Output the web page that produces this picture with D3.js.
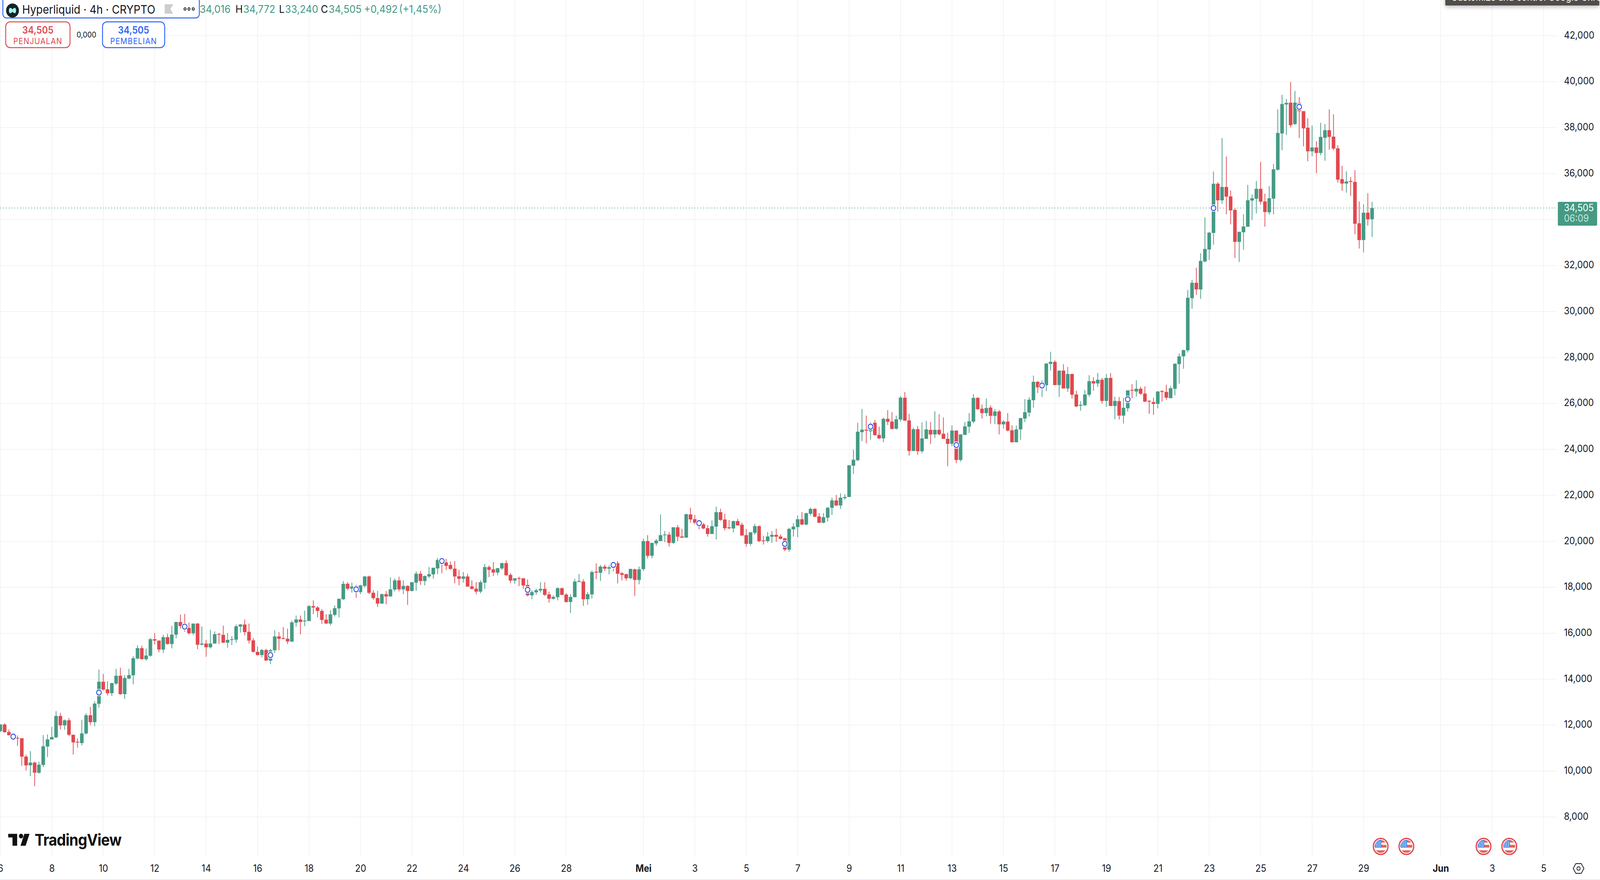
<!DOCTYPE html>
<html>
<head>
<meta charset="utf-8">
<script src="https://cdn.jsdelivr.net/npm/d3@7"></script>
<style>
html, body { margin: 0; padding: 0; width: 100%; height: 100%; background: #fff; overflow: hidden; }
svg { display: block; width: 100vw; height: 100vh; font-family: Inter, "Noto Sans", sans-serif; }
.tick text { font-family: Inter, "Noto Sans", sans-serif; }
</style>
</head>
<body>
<script>
// candle 4 jam, [open, high, low, close], satuan 1/1000 USD
var aprCandles = [
[11740,12040,11700,12030],[12030,12080,11680,11690],[11700,11810,11560,11560],[11550,11580,11410,11450],[11450,11550,11100,11430],
[11430,11430,10230,10630],[10630,10710,10030,10250],[10250,10870,9780,10370],[10370,10410,9340,9930],[9930,10410,9890,10280],
[10270,11570,10170,11080],[11070,11600,10610,11380],[11380,11930,11370,11480],[11470,12610,11440,12400],[12400,12540,11810,11990],
[11990,12250,11800,12210],[12210,12310,11520,11580],[11580,11590,10720,11250],[11280,11430,11020,11250],[11220,12230,11120,11640],
[11640,12520,11590,12430],[12430,12790,12000,12130],[12130,13040,11950,12940],[12930,14420,12760,13890],[13890,14230,13500,13550],
[13560,13910,13290,13390],[13390,13840,13270,13830],[13810,14450,13750,14150],[14150,14500,13320,13350],[13350,14180,13140,14050],
[14030,14450,14000,14180],[14170,15000,13780,14910],[14900,15470,14860,15350],[15350,15460,14860,14870],[14870,15330,14810,15030],
[15020,15790,14980,15740],[15740,16010,15510,15680],[15680,15690,15170,15290],[15290,15930,15140,15830],[15830,15980,15510,15530],
[15530,16320,15340,15940],[15940,16490,15780,16490],[16490,16810,16200,16310],[16310,16840,16070,16220],[16230,16470,15940,16000],
[16000,16420,15920,16420],[16420,16440,15310,15500],[15500,16290,15470,15550],[15550,15710,14980,15390],[15390,16150,15330,15550],
[15550,16080,15550,15960],[15970,16010,15530,15950],[15930,16330,15570,15590],[15590,16010,15370,15710],[15710,15880,15480,15740],
[15720,16380,15590,16300],[16290,16400,16030,16380],[16380,16600,15900,16050],[16060,16420,15550,15680],[15690,15790,15160,15190],
[15190,15420,15030,15050],[15050,15320,14950,15270],[15270,15320,14810,14810],[14810,15320,14660,15260],[15260,16130,15140,15860],
[15860,16050,15260,15760],[15790,16270,15730,15760],[15760,16200,15530,15640],[15640,16550,15610,16470],[16460,16770,16290,16600],
[16600,16770,15950,16490],[16530,16980,16310,16550],[16530,17230,16530,17180],[17180,17430,16830,17120],[17120,17180,16700,16970],
[16970,17050,16410,16580],[16590,16830,16420,16420],[16420,17000,16350,16820],[16800,17210,16730,17090],[17080,17500,16690,17500],
[17480,18270,17450,18150],[18150,18220,17870,17940],[17940,18200,17770,18030],[18030,18110,17550,17810],[17790,18110,17700,18080],
[18060,18490,17990,18470],[18470,18510,17700,17760],[17760,17870,17460,17530],[17530,17840,17140,17290],[17290,17720,17280,17700],
[17700,17840,17260,17600],[17600,18440,17600,17910],[17900,18390,17820,18300],[18300,18460,17820,17910],[17910,18300,17700,18060],
[18060,18080,17230,17840],[17840,18230,17820,18220],[18200,18690,17840,18590],[18590,18710,18100,18270],[18270,18510,18080,18490],
[18470,18880,18400,18570],[18560,18850,18370,18850],[18820,19280,18570,19190],[19190,19260,18610,19080],[19080,19240,18750,18930],
[18970,19120,18760,18800],[18810,19140,18170,18470],[18480,18760,18080,18370],[18370,18660,18200,18470],[18470,18590,18030,18030],
[18040,18300,17910,17930],[17940,18230,17700,17810],[17810,18300,17740,18220],[18200,19020,17930,18880],[18880,18950,18440,18760],
[18780,19090,18490,18640],[18640,18830,18520,18830],[18820,19070,18760,19050],[19050,19170,18510,18520],[18540,18610,18180,18290],
[18290,18400,18150,18390],[18400,18460,18050,18370],[18390,18400,17930,18080],[18100,18340,17600,17650],[17650,17870,17480,17790],
[17780,17940,17670,17870],[17860,18220,17770,17930],[17930,18220,17620,17670],[17690,17810,17330,17500],[17500,17650,17460,17580],
[17570,17990,17430,17960],[17960,17980,17670,17670],[17680,17740,17330,17360],[17360,17700,16880,17580],[17570,18370,17570,18250],
[18230,18580,18230,18270],[18250,18350,17190,17480],[17480,17790,17240,17700],[17690,18730,17510,18660],[18680,19040,18350,18640],
[18630,18970,18270,18900],[18900,18990,18710,18810],[18810,18950,18560,18870],[18850,19090,18690,19050],[19050,19140,18170,18590],
[18610,18660,18300,18540],[18570,18590,18290,18390],[18390,18800,18350,18800],[18780,18810,17620,18320],[18320,18900,18130,18780]
];
var meiCandles = [
[18790,20120,18720,20010],[20010,20270,19260,19370],[19370,19940,19260,19930],[19910,20100,19810,20030],[20010,21170,20010,20270],
[20270,20450,19960,20300],[20290,20400,19770,19930],[19930,20620,19890,20610],[20610,20710,20010,20200],[20210,20540,20150,20160],
[20160,21200,20160,21180],[21170,21460,20810,20950],[20960,21150,20740,20810],[20880,20910,20520,20740],[20740,20810,20520,20560],
[20570,20710,20200,20320],[20320,20910,20320,20660],[20640,21510,20080,21270],[21270,21420,20890,20930],[20950,21200,20470,20570],
[20610,20930,20520,20570],[20560,20900,20390,20880],[20880,20980,20690,20690],[20720,20810,20250,20250],[20270,20540,19760,19890],
[19890,20400,19810,20390],[20370,20760,20280,20660],[20660,20690,19960,20010],[20040,20230,19860,20010],[20010,20400,19940,20210],
[20200,20450,19930,20280],[20280,20550,19980,20200],[20210,20300,20080,20110],[20130,20150,19570,19640],[19640,20590,19550,20540],
[20520,20790,20210,20640],[20620,21130,20180,20960],[20960,21270,20710,20730],[20730,21250,20690,21220],[21200,21460,21120,21410],
[21410,21440,21050,21070],[21080,21230,20790,20810],[20810,21230,20780,21050],[21030,21490,20860,21460],[21460,21900,21150,21780],
[21780,22020,21540,21560],[21560,22090,21410,21900],[21880,22050,21810,21930],[21930,23310,21930,23310],[23290,23990,22930,23550],
[23530,25160,23490,24770],[24750,25760,24360,24860],[24860,25470,24260,24820],[24790,25180,24430,25130],[25160,25280,24600,24620],
[24630,24990,24450,24480],[24480,25380,24310,25330],[25330,25710,25060,25200],[25210,25620,24870,24890],[24900,25470,24860,25310],
[25300,26320,25210,26250],[26250,26500,25250,25250],[25260,25550,23730,23930],[23930,24950,23930,24880],[24880,25020,23760,23920],
[23920,25170,23830,24480],[24460,25240,24460,24870],[24850,25190,24240,24650],[24650,25660,24490,24850],[24850,25530,24610,24660],
[24680,25390,24460,24460],[24460,24730,23270,24240],[24240,25050,24140,24820],[24820,24820,23400,23540],[23540,24660,23470,24650],
[24630,25190,24630,25000],[24990,25580,24710,25220],[25210,26400,25140,26240],[26240,26280,25720,25750],[25770,25950,25340,25580],
[25580,26210,25440,25800],[25820,25920,25120,25460],[25460,25750,25100,25650],[25650,25720,24650,25090],[25090,25270,24900,25210],
[25210,25580,24780,24820],[24830,25050,24310,24310],[24310,25040,24310,24870],[24870,25380,24420,25360],[25340,26190,25190,25620],
[25600,26260,25430,26160],[26140,27210,25820,26940],[26940,26970,26450,26700],[26700,27010,26280,26910],[26790,27740,26530,27740],
[27720,28250,27430,27810],[27810,27880,26790,26800],[26800,27430,26280,27430],[27430,27710,26650,26650],[26650,27590,26500,27280],
[27280,27300,26210,26380],[26390,26550,25840,25870],[25900,26090,25680,25940],[25920,26580,25900,26390],[26380,27230,26290,26970],
[26970,27140,26550,26870],[26870,27330,26720,27030],[27030,27110,25990,26110],[26110,27280,25850,27110],[27110,27330,25890,25890],
[25890,26290,25310,26110],[26100,26280,25300,25470],[25470,26250,25130,25810],[25790,26570,25650,26570],[26590,26840,26230,26560],
[26520,27010,26300,26640],[26640,26730,26370,26420],[26430,26740,26060,26080],[26110,26150,25550,26080],[26060,26250,25500,25980],
[25980,26540,25790,26520],[26540,26570,26080,26500],[26500,26810,26160,26250],[26230,26760,26230,26660],[26640,27730,26350,27730],
[27710,28170,26860,28050],[28050,28340,27510,28320],[28310,30940,28220,30600],[30580,31380,30120,31250],[31250,31910,30720,30960],
[30960,32540,30550,32200],[32180,34100,32140,32720],[32700,33470,32240,33430],[33420,36090,32910,35560],[35560,35630,34350,34840],
[34840,37550,34690,35420],[35420,36750,34230,35000],[35010,35270,33790,34400],[34420,34490,32330,33030],[33030,33470,32160,33470],
[33450,34230,32680,33700],[33690,35510,33690,34840],[34830,35100,33980,34930],[34910,35680,34270,35340],[35340,36510,34660,34780],
[34790,35130,33690,34330],[34320,35460,34210,34930],[34910,36420,34230,36190],[36170,38800,36140,37770],[37750,39430,37020,39030],
[39010,39250,37680,39080],[39090,39980,38010,38110],[38160,39600,38110,39090],[39080,39330,37550,38720],[38720,38720,37190,37970],
[38000,38410,36540,36970],[36970,38090,36750,37140],[37140,37410,36020,36900],[36900,38210,36800,37600],[37560,38160,36560,37890],
[37890,38800,37040,37600],[37610,38580,37020,37090],[37100,37240,35610,35740],[35760,36340,35250,35570],[35570,36100,35170,35660],
[35680,35850,35030,35640],[35640,36150,33360,33820],[33840,34790,32740,33110],[33110,34670,32570,34300],[34300,35150,33740,34013],
[34016,34772,33240,34505]
];

// lingkaran biru tiap 20 candle: indeks candle dan harganya
var markerIndex = [3,23,43,63,83,103,123,143,163,183,203,223,243,263,283,303];
var markerPrice = [11500,13420,16290,15050,17910,19140,17890,18970,20790,19890,24990,24190,26780,26180,34500,38910];

var priceTicks = d3.range(8000, 42001, 2000);
var aprDays = [6,8,10,12,14,16,18,20,22,24,26,28];
var meiDays = [1,3,5,7,9,11,13,15,17,19,21,23,25,27,29];
var junDays = [1,3,5];
var usEvents = [[4,29],[4,30],[5,2],[5,3]]; // bulan (0-based), tanggal, jam 16:00

// window bisa lebih kecil dari yang diminta, jadi digambar lewat viewBox
var width = 4479, height = 2254;
var plotRight = 4359, plotBottom = 2194;
var green = "#459a84", red = "#e0484f", blue = "#2f62f5", ink = "#131722";

var candles = aprCandles.concat(meiCandles);
var start = new Date(Date.UTC(2025, 3, 6));
var timeOf = function(i) { return d3.utcHour.offset(start, i * 4); };
var last = candles[candles.length - 1];
var prevClose = candles[candles.length - 2][3];

var xScale = d3.scaleUtc().domain([start, new Date(Date.UTC(2025, 5, 5))]).range([1, 4321]);
var yScale = d3.scaleLinear().domain([8000, 42000]).range([2092.8, 91.6]);

// angka di gambar pakai koma desimal (locale Indonesia)
var idLocale = d3.formatLocale({ decimal: ",", thousands: ".", grouping: [3], currency: ["", ""] });
var price3 = idLocale.format(".3f");
var priceText = function(v) { return price3(v / 1000); };

var dayTicks = aprDays.map(function(d) { return new Date(Date.UTC(2025, 3, d)); })
  .concat(meiDays.map(function(d) { return new Date(Date.UTC(2025, 4, d)); }))
  .concat(junDays.map(function(d) { return new Date(Date.UTC(2025, 5, d)); }));

var svg = d3.select("body").append("svg").attr("viewBox", "0 0 " + width + " " + height).attr("preserveAspectRatio", "none");
svg.append("rect").attr("width", width).attr("height", height).attr("fill", "#fff");

// grid
var grid = svg.append("g").attr("stroke", "#f3f3f3").attr("stroke-width", 2);
grid.selectAll("line.h").data(priceTicks).enter().append("line").attr("class", "h")
  .attr("x1", 0).attr("x2", plotRight).attr("y1", yScale).attr("y2", yScale);
grid.selectAll("line.v").data(dayTicks).enter().append("line").attr("class", "v")
  .attr("x1", xScale).attr("x2", xScale).attr("y1", 0).attr("y2", plotBottom);

// axes
var yAxis = d3.axisRight(yScale).tickValues(priceTicks).tickSize(0).tickPadding(19).tickFormat(priceText);
var yG = svg.append("g").attr("transform", "translate(" + plotRight + ",0)").call(yAxis);
yG.select(".domain").remove();
yG.selectAll("text").attr("font-size", 25).attr("fill", ink).attr("dy", "0.26em");
// 34,000 tertutup label harga terakhir
yG.selectAll(".tick").filter(function(d) { return d === 34000; }).remove();

var xAxis = d3.axisBottom(xScale).tickValues(dayTicks).tickSize(0).tickPadding(0).tickFormat(function(d) {
  if (d.getUTCDate() === 1) return d.getUTCMonth() === 4 ? "Mei" : "Jun";
  return d.getUTCDate();
});
var xG = svg.append("g").attr("transform", "translate(0," + plotBottom + ")").call(xAxis);
xG.select(".domain").remove();
xG.selectAll("text").attr("font-size", 25).attr("fill", ink).attr("y", 39).attr("dy", 0)
  .attr("font-weight", function(d) { return d.getUTCDate() === 1 ? 700 : 400; });

// candles
var candle = svg.append("g").selectAll("g")
  .data(candles).enter().append("g")
  .attr("fill", function(d) { return d[3] >= d[0] ? green : red; })
  .attr("stroke", function(d) { return d[3] >= d[0] ? green : red; });
candle.append("line").attr("stroke-width", 2)
  .attr("x1", function(d, i) { return xScale(timeOf(i)); })
  .attr("x2", function(d, i) { return xScale(timeOf(i)); })
  .attr("y1", function(d) { return yScale(d[1]); })
  .attr("y2", function(d) { return yScale(d[2]); });
candle.append("rect").attr("stroke", "none").attr("width", 10)
  .attr("x", function(d, i) { return xScale(timeOf(i)) - 5; })
  .attr("y", function(d) { return yScale(Math.max(d[0], d[3])); })
  .attr("height", function(d) { return Math.max(2, Math.abs(yScale(d[0]) - yScale(d[3]))); });

// garis harga terakhir
svg.append("line").attr("x1", 0).attr("x2", plotRight)
  .attr("y1", yScale(last[3])).attr("y2", yScale(last[3]))
  .attr("stroke", green).attr("stroke-width", 2).attr("stroke-dasharray", "2 6");

// marker biru
var markerG = svg.append("g").selectAll("g").data(markerIndex).enter().append("g")
  .attr("transform", function(d, i) { return "translate(" + xScale(timeOf(d)) + "," + yScale(markerPrice[i]) + ")"; });
markerG.append("circle").attr("r", 9.5).attr("fill", "#fff");
markerG.append("circle").attr("r", 6.5).attr("fill", "#fff").attr("stroke", "#2b50e0").attr("stroke-width", 2.4);

// label harga kanan
svg.append("rect").attr("x", 4361).attr("y", 517).attr("width", 110).attr("height", 61).attr("rx", 3).attr("fill", green);
svg.append("text").attr("x", 4378).attr("y", 541).attr("font-size", 25).attr("fill", "#fff").text(priceText(last[3]));
svg.append("text").attr("x", 4378).attr("y", 568).attr("font-size", 25).attr("fill", "#c8e6dd").text("06:09");

// bendera event US
var defs = svg.append("defs");
defs.append("clipPath").attr("id", "flagClip").append("circle").attr("r", 16.5);
var flag = svg.append("g").selectAll("g").data(usEvents).enter().append("g")
  .attr("transform", function(d) { return "translate(" + xScale(new Date(Date.UTC(2025, d[0], d[1], 16))) + ",2168)"; });
flag.append("circle").attr("r", 20.5).attr("fill", "#fff").attr("stroke", red).attr("stroke-width", 3.5);
var flagInner = flag.append("g").attr("clip-path", "url(#flagClip)");
flagInner.append("rect").attr("x", -17).attr("y", -17).attr("width", 34).attr("height", 34).attr("fill", "#fff");
[-17, -4, 10].forEach(function(y) {
  flagInner.append("rect").attr("x", -17).attr("y", y).attr("width", 34).attr("height", 7).attr("fill", "#e2645c");
});
flagInner.append("rect").attr("x", -17).attr("y", -17).attr("width", 19).attr("height", 20).attr("fill", "#4a88e6");
[-11, -6, -1].forEach(function(y) {
  [-12, -7, -2].forEach(function(x) {
    flagInner.append("circle").attr("cx", x).attr("cy", y).attr("r", 1.4).attr("fill", "#fff");
  });
});

// logo TradingView
var logo = svg.append("g").attr("fill", "#111");
logo.append("path").attr("d", "M23 2135.7H48V2166.3H35V2145H23Z");
logo.append("circle").attr("cx", 59).attr("cy", 2141.5).attr("r", 6);
logo.append("path").attr("d", "M68.3 2135.7H82.7L71.7 2166.3H57.3Z");
logo.append("text").attr("x", 97).attr("y", 2166).attr("font-size", 41).attr("font-weight", 700).attr("letter-spacing", -1).text("TradingView");

// ikon pengaturan
svg.append("path").attr("d", "M4404 2224.5L4411.5 2212H4426.5L4434 2224.5L4426.5 2237H4411.5Z")
  .attr("fill", "none").attr("stroke", ink).attr("stroke-width", 2);
svg.append("circle").attr("cx", 4419).attr("cy", 2224.5).attr("r", 4.5).attr("fill", "none").attr("stroke", ink).attr("stroke-width", 2);

// header simbol
svg.append("rect").attr("x", 8).attr("y", -12).attr("width", 550).attr("height", 58).attr("rx", 10)
  .attr("fill", "#fff").attr("stroke", blue).attr("stroke-width", 2.5);
svg.append("circle").attr("cx", 35).attr("cy", 27).attr("r", 18).attr("fill", "#10252a");
svg.append("path").attr("d", "M25 27C25 18 31 19 35 24C39 19 45 18 45 27C45 36 39 35 35 30C31 35 25 36 25 27Z").attr("fill", "#a5f5e0");
svg.append("text").attr("x", 62).attr("y", 35).attr("font-size", 30).attr("fill", ink).text("Hyperliquid · 4h · CRYPTO");
svg.append("path").attr("d", "M461 11H485L477 23L485 35H461Z").attr("fill", "#cdcdcd");
svg.append("g").selectAll("circle").data([518, 529, 541]).enter().append("circle")
  .attr("cx", function(d) { return d; }).attr("cy", 23).attr("r", 3).attr("fill", "none").attr("stroke", ink).attr("stroke-width", 2);

// baris OHLC
var ohlcRow = [
  [559, priceText(last[0]), green], [659, "H", ink], [681, priceText(last[1]), green],
  [781, "L", ink], [798, priceText(last[2]), green], [898, "C", ink], [920, priceText(last[3]), green],
  [1019, "+" + priceText(last[3] - prevClose), green],
  [1117, "(+" + idLocale.format(".2f")((last[3] - prevClose) / prevClose * 100) + "%)", green]
];
svg.append("g").selectAll("text").data(ohlcRow).enter().append("text")
  .attr("x", function(d) { return d[0]; }).attr("y", 33).attr("font-size", 27.5)
  .attr("fill", function(d) { return d[2]; }).text(function(d) { return d[1]; });

// tombol jual / beli
[[16, 180, red, "PENJUALAN"], [287, 174, blue, "PEMBELIAN"]].forEach(function(b) {
  svg.append("rect").attr("x", b[0]).attr("y", 56).attr("width", b[1]).attr("height", 66).attr("rx", 12)
    .attr("fill", "#fff").attr("stroke", b[2]).attr("stroke-width", 2.5);
  svg.append("text").attr("x", b[0] + b[1] / 2).attr("y", 86).attr("text-anchor", "middle")
    .attr("font-size", 25).attr("font-weight", 600).attr("fill", b[2]).text(priceText(last[3]));
  svg.append("text").attr("x", b[0] + b[1] / 2).attr("y", 113).attr("text-anchor", "middle")
    .attr("font-size", 21).attr("letter-spacing", 1.3).attr("fill", b[2]).text(b[3]);
});
svg.append("text").attr("x", 242).attr("y", 96).attr("text-anchor", "middle").attr("font-size", 20).attr("fill", ink).text(priceText(0));

// tooltip browser yang ikut terfoto
svg.append("rect").attr("x", 4046).attr("y", -10).attr("width", 431).attr("height", 24)
  .attr("fill", "#514d49").style("filter", "drop-shadow(0 3px 6px rgba(0,0,0,0.3))");
svg.append("text").attr("x", 4062).attr("y", 2).attr("font-size", 25).attr("fill", "#fff").text("Customize and control Google Chrome");

// strip bawah
svg.append("rect").attr("x", 0).attr("y", 2252).attr("width", width).attr("height", 2).attr("fill", "#ececec");
</script>
</body>
</html>
